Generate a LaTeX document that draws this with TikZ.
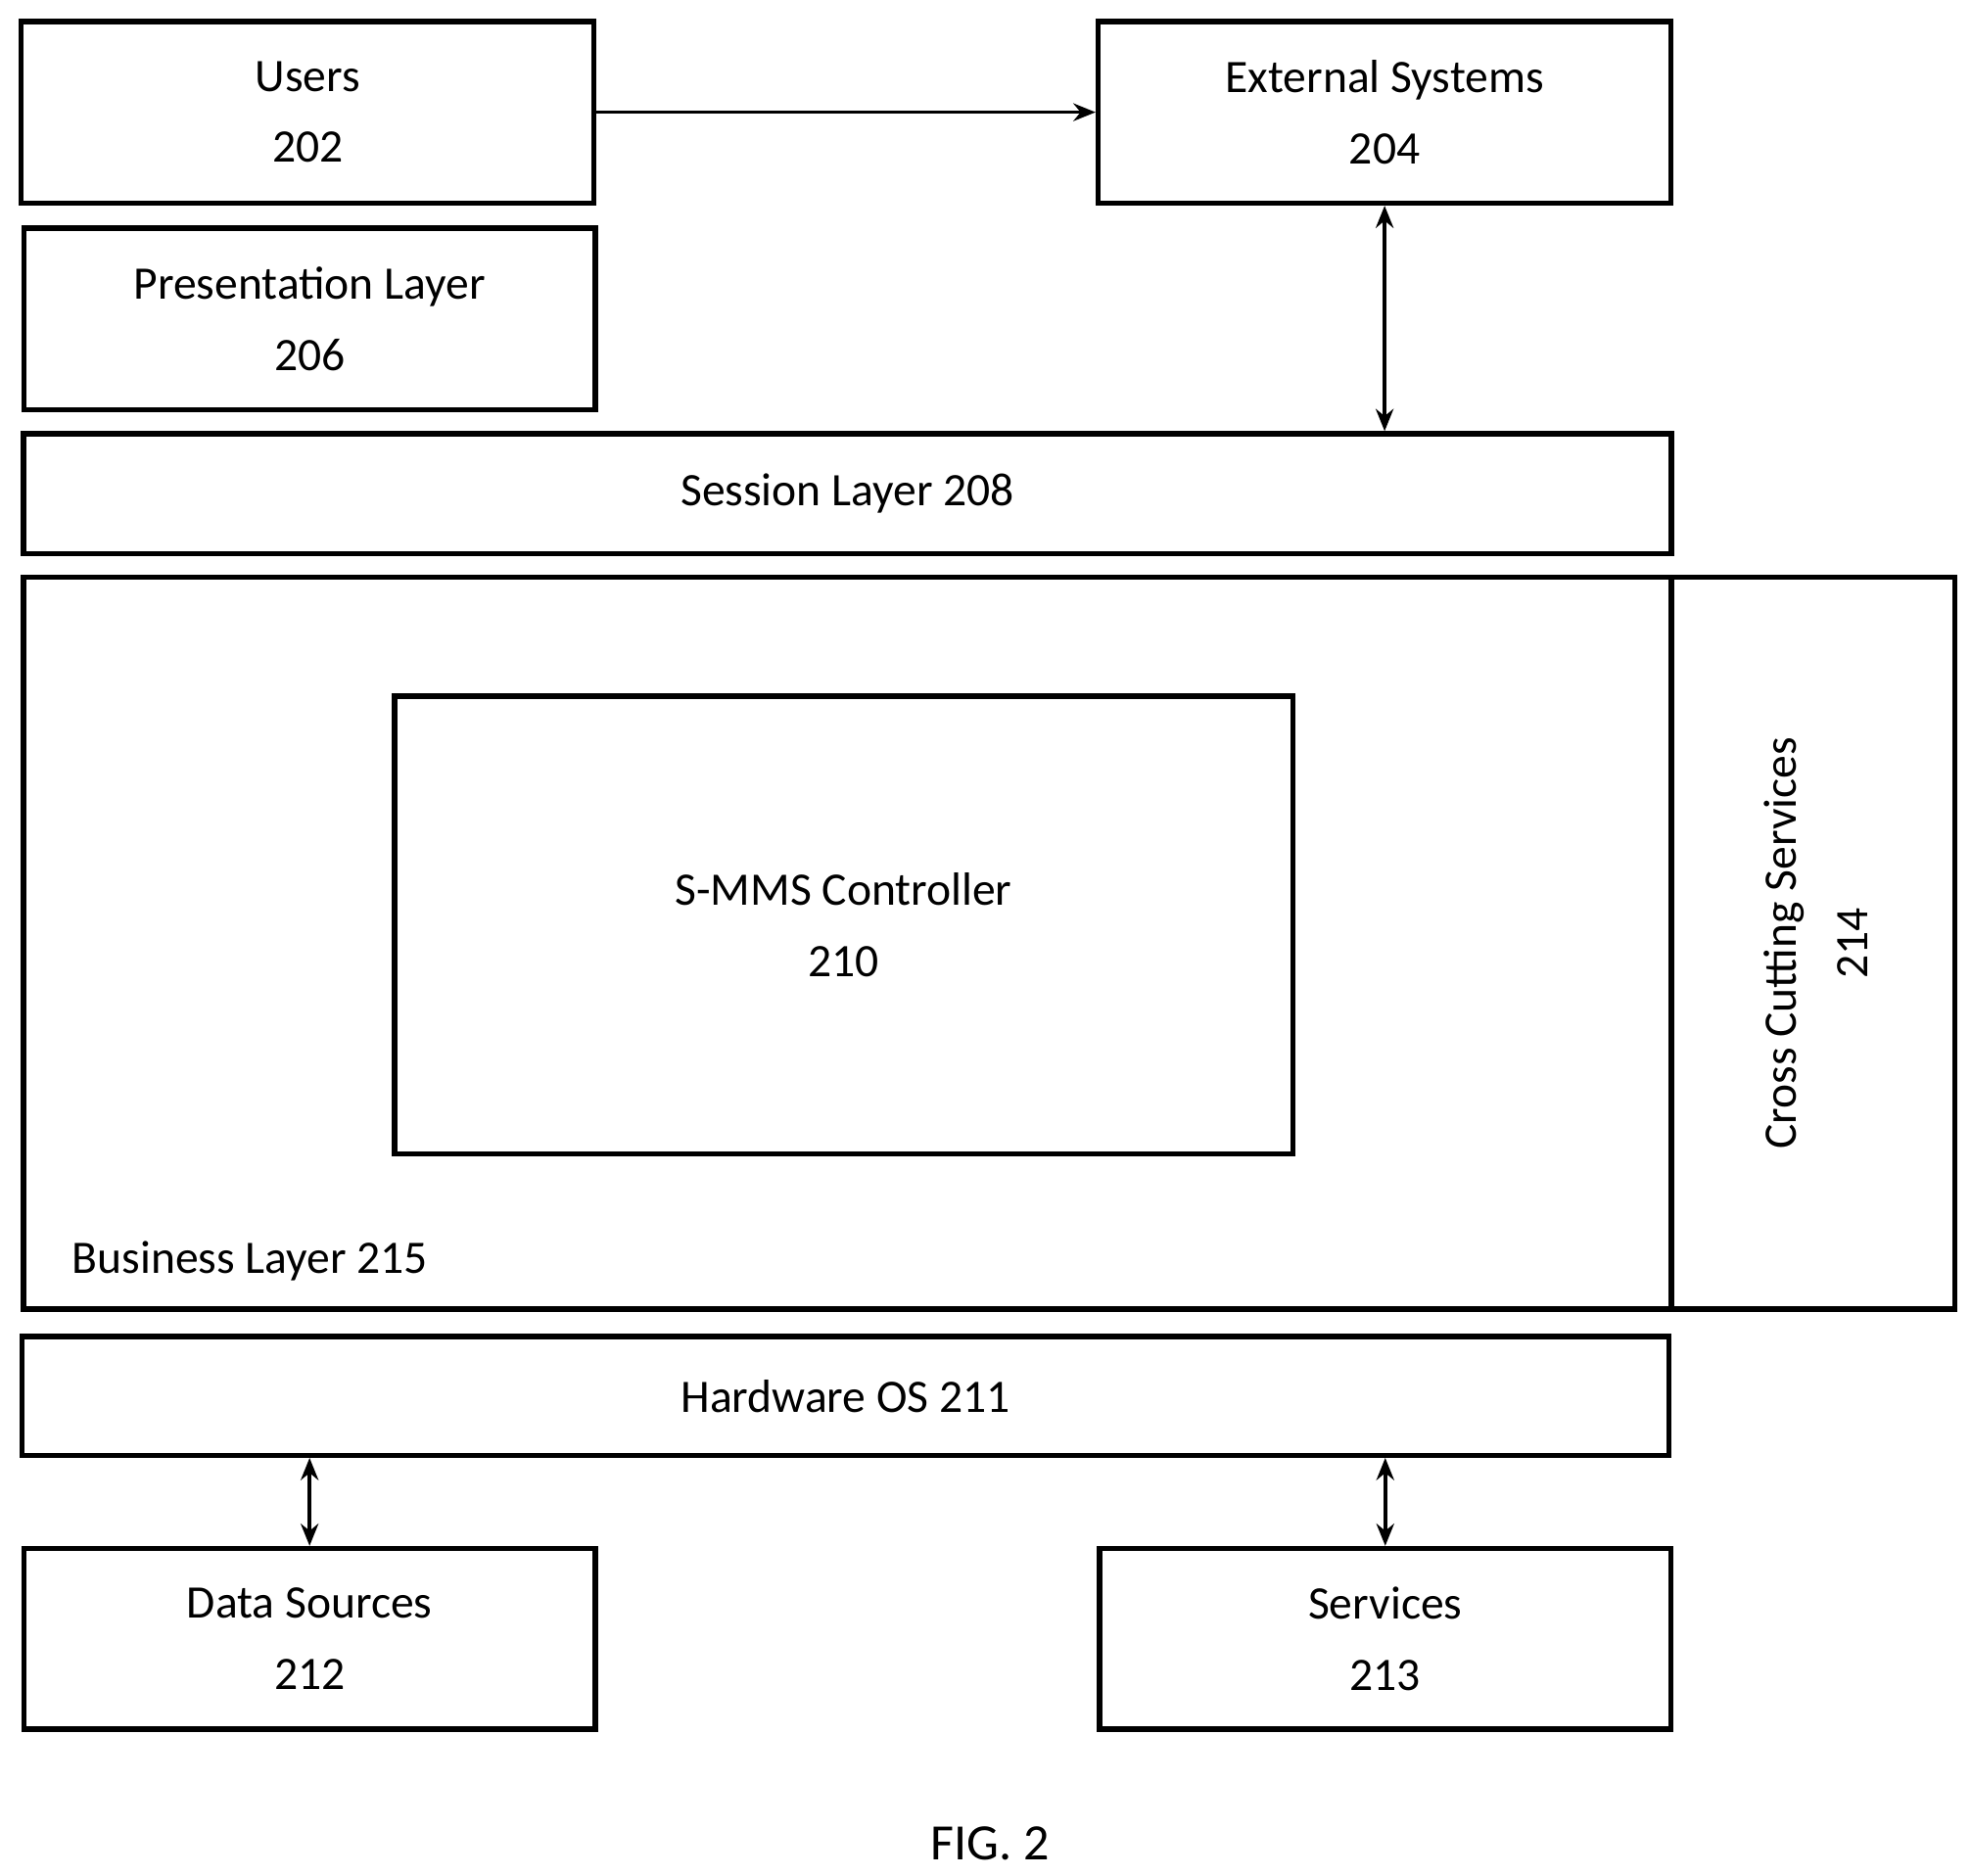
\documentclass[tikz,border=0pt]{standalone}
\usepackage{fontspec}
\setmainfont{Carlito}
\usetikzlibrary{arrows.meta,positioning,calc}
\tikzset{
  box/.style={draw, line width=1.2pt, rectangle, align=center, inner sep=0pt,
    font=\fontsize{10.5pt}{16pt}\selectfont},
  link/.style={line width=0.8pt, {Stealth[length=5pt,width=4pt]}-{Stealth[length=5pt,width=4pt]}},
  onelink/.style={line width=0.8pt, -{Stealth[length=5pt,width=4pt]}}
}
\begin{document}
\begin{tikzpicture}[x=0.01cm,y=-0.01cm]
    \useasboundingbox (0,0) rectangle (1563,1487);
    % Top row
    \node[box, minimum width=4.54cm, minimum height=1.44cm] (users) at (244,89) {Users\\202};
    \node[box, minimum width=4.54cm, minimum height=1.44cm] (ext) at (1098,89) {External Systems\\204};
    \node[box, minimum width=4.53cm, minimum height=1.44cm] (pres) at (245.5,253) {Presentation Layer\\206};
    \node[box, minimum width=13.06cm, minimum height=0.95cm] (session) at (672,391.5) {Session Layer 208};
    % Business layer
    \node[box, minimum width=13.06cm, minimum height=5.80cm] (business) at (672,748) {};
    \node[anchor=base west, font=\fontsize{10.5pt}{16pt}\selectfont] (businesslbl) at (45,1010) {Business Layer 215};
    \node[box, minimum width=7.12cm, minimum height=3.63cm] (ctrl) at (669,733.5) {S-MMS Controller\\210};
    \node[box, minimum width=2.25cm, minimum height=5.80cm] (cross) at (1437.5,748) {};
    \node[rotate=90, align=center, font=\fontsize{10.5pt}{16pt}\selectfont] (crosslbl) at (1440,748) {Cross Cutting Services\\214};
    % Bottom
    \node[box, minimum width=13.05cm, minimum height=0.94cm] (hw) at (670.5,1107) {Hardware OS 211};
    \node[box, minimum width=4.53cm, minimum height=1.43cm] (data) at (245.5,1299.5) {Data Sources\\212};
    \node[box, minimum width=4.53cm, minimum height=1.43cm] (serv) at (1098.5,1299.5) {Services\\213};
    \node[font=\fontsize{11.5pt}{14pt}\selectfont] (fig) at (785,1462) {FIG. 2};
    % Connections
    \draw[onelink] (users.east) -- (ext.west);
    \draw[link] (ext.south) -- (ext.south |- session.north);
    \draw[link] (data.north) -- (data.north |- hw.south);
    \draw[link] (serv.north) -- (serv.north |- hw.south);
\end{tikzpicture}
\end{document}
